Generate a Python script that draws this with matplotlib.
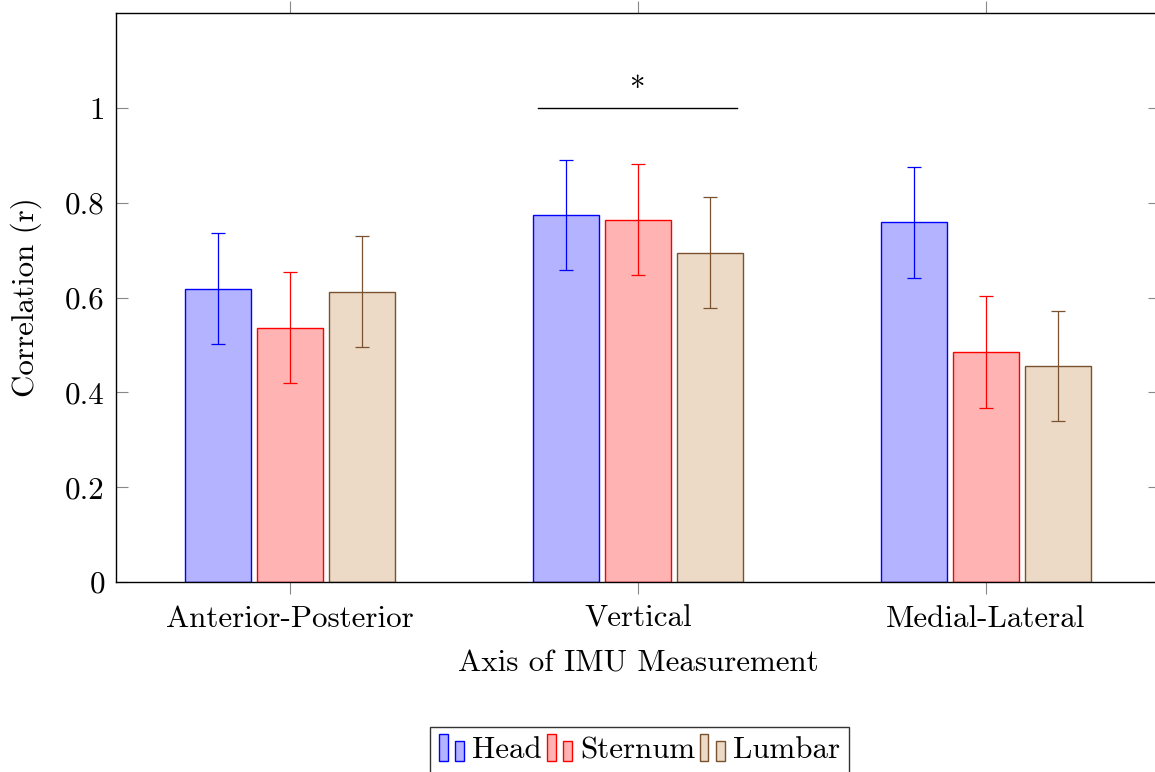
import matplotlib
matplotlib.use('Agg')
import matplotlib.pyplot as plt
import numpy as np
from matplotlib.patches import Rectangle
from matplotlib.legend_handler import HandlerBase

plt.rcParams['font.family'] = 'serif'
plt.rcParams['font.serif'] = ['cmr10']
plt.rcParams['mathtext.fontset'] = 'cm'
plt.rcParams['axes.formatter.use_mathtext'] = True

# data
categories = ['Anterior-Posterior', 'Vertical', 'Medial-Lateral']
series = ['Head', 'Sternum', 'Lumbar']
head = [0.618, 0.774, 0.759]
sternum = [0.536, 0.764, 0.485]
lumbar = [0.612, 0.694, 0.456]
head_err = [0.117, 0.117, 0.117]
sternum_err = [0.117, 0.117, 0.118]
lumbar_err = [0.117, 0.117, 0.116]
yticks = [0, 0.2, 0.4, 0.6, 0.8, 1]
ytick_labels = ['0', '0.2', '0.4', '0.6', '0.8', '1']

fills = ['#b3b3ff', '#ffb3b3', '#ecd9c6']
edges = ['#0000ff', '#ff0000', '#7a5230']

fs = 22.3

fig = plt.figure(figsize=(11.55, 7.72), dpi=100)
ax = fig.add_axes([116 / 1155, 1 - 582 / 772, 1044 / 1155, 569 / 772])

x = np.arange(len(categories))
width = 0.19
step = 0.207
vals = [head, sternum, lumbar]
errs = [head_err, sternum_err, lumbar_err]
handles = []
for i, (v, e) in enumerate(zip(vals, errs)):
    pos = x + (i - 1) * step
    b = ax.bar(pos, v, width, color=fills[i], edgecolor=edges[i], linewidth=1.0,
               label=series[i], zorder=2)
    ax.errorbar(pos, v, yerr=e, fmt='none', ecolor=edges[i], elinewidth=0.9,
                capsize=5, capthick=0.9, zorder=3)
    handles.append(b)

# significance marker
ax.plot([1 - 0.287, 1 + 0.285], [1.0, 1.0], color='black', linewidth=1.0)
ax.text(1, 1.037, '*', ha='center', va='center', fontsize=fs)

ax.set_xlim(-0.5, 2.5)
ax.set_ylim(0, 1.2)
ax.set_xticks(x)
ax.set_xticklabels(categories, fontsize=fs)
ax.set_yticks(yticks)
ax.set_yticklabels(ytick_labels, fontsize=fs)
ax.tick_params(axis='x', direction='out', top=True, length=8.5, width=0.8,
               color='#888888', pad=8)
ax.tick_params(axis='y', direction='in', right=True, length=8.5, width=0.8,
               color='#888888', pad=8)
for s in ax.spines.values():
    s.set_linewidth(1.0)
ax.set_xlabel('Axis of IMU Measurement', fontsize=fs, labelpad=12)
ax.set_ylabel('Correlation (r)', fontsize=fs, labelpad=17)


class TwoBarHandler(HandlerBase):
    def create_artists(self, legend, orig_handle, xdescent, ydescent, width,
                       height, fontsize, trans):
        p = orig_handle.patches[0]
        fc, ec = p.get_facecolor(), p.get_edgecolor()
        w = width * 0.35
        r1 = Rectangle((-xdescent, -ydescent - 2), w, height * 1.25,
                       facecolor=fc, edgecolor=ec, linewidth=1.0, transform=trans)
        r2 = Rectangle((-xdescent + width * 0.65, -ydescent - 2), w, height * 0.92,
                       facecolor=fc, edgecolor=ec, linewidth=1.0, transform=trans)
        return [r1, r2]


leg = fig.legend(handles, series, loc='upper left', bbox_to_anchor=(430 / 1155, 1 - 727 / 772),
                 ncol=3, fontsize=fs, frameon=True, fancybox=False,
                 handler_map={type(handles[0]): TwoBarHandler()},
                 handlelength=0.8, handletextpad=0.27, columnspacing=0.15,
                 borderpad=0.3, borderaxespad=0, edgecolor='black')
leg.get_frame().set_linewidth(1.0)

fig.savefig('out.png', dpi=100)
